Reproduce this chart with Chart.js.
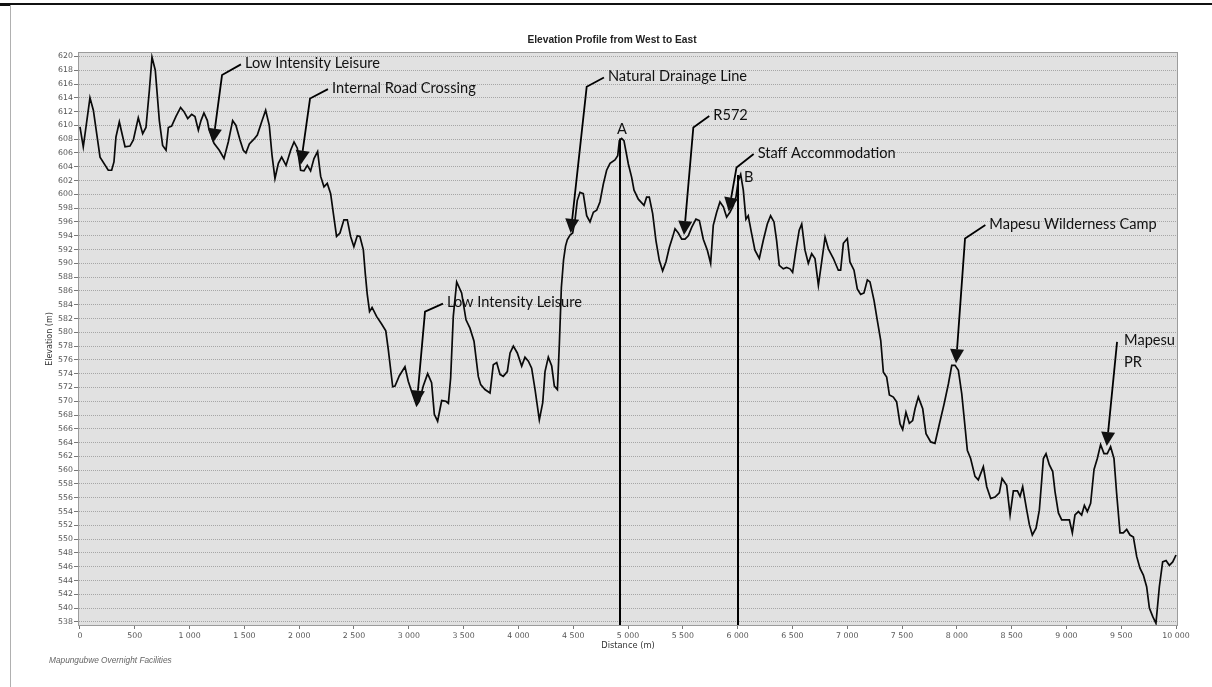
<!DOCTYPE html>
<html>
<head>
<meta charset="utf-8">
<title>Elevation Profile from West to East</title>
<script src="https://cdn.jsdelivr.net/npm/chart.js@4/dist/chart.umd.min.js"></script>
<style>
  html, body { margin: 0; padding: 0; background: #fff; }
  canvas { display: block; }
</style>
</head>
<body>
<canvas id="profile" width="1212" height="687"></canvas>
<script>
// Distance along the transect (m) and ground elevation (m)
const distances = [
  0,30,91,122,183,258,289,310,328,359,
  411,456,487,532,572,602,633,657,687,724,
  754,785,806,836,876,918,949,983,1019,1049,
  1080,1104,1131,1162,1177,1223,1271,1314,1353,1393,
  1423,1460,1490,1514,1545,1587,1618,1657,1694,1727,
  1752,1779,1810,1840,1880,1922,1953,1983,2013,2044,
  2074,2104,2135,2168,2196,2226,2256,2287,2311,2341,
  2372,2408,2439,2469,2499,2530,2554,2585,2603,2621,
  2642,2665,2706,2752,2790,2813,2853,2874,2914,2965,
  2995,3026,3071,3096,3132,3172,3208,3233,3263,3300,
  3339,3361,3382,3406,3437,3482,3522,3558,3595,3634,
  3656,3695,3741,3771,3802,3832,3862,3899,3924,3954,
  3990,4030,4060,4091,4121,4152,4191,4222,4243,4273,
  4304,4328,4356,4374,4392,4412,4430,4446,4471,4495,
  4516,4537,4562,4592,4623,4653,4684,4714,4744,4775,
  4805,4836,4881,4906,4921,4942,4963,5003,5033,5055,
  5094,5146,5170,5194,5225,5255,5286,5316,5346,5377,
  5407,5429,5459,5490,5520,5550,5581,5620,5651,5687,
  5724,5754,5778,5809,5839,5870,5900,5930,5961,5985,
  6006,6028,6052,6076,6097,6128,6158,6198,6234,6271,
  6301,6332,6356,6380,6417,6447,6478,6502,6532,6562,
  6585,6615,6645,6676,6706,6737,6767,6798,6828,6874,
  6919,6940,6965,7001,7025,7062,7092,7123,7153,7184,
  7208,7245,7275,7306,7330,7360,7385,7421,7451,7482,
  7506,7536,7567,7597,7619,7649,7689,7719,7762,7801,
  7841,7884,7923,7954,7984,8014,8045,8075,8096,8126,
  8166,8196,8242,8273,8309,8349,8388,8413,8455,8486,
  8516,8553,8577,8601,8638,8662,8689,8723,8753,8775,
  8790,8814,8844,8875,8896,8927,8957,8997,9027,9054,
  9078,9109,9139,9164,9191,9221,9252,9282,9312,9343,
  9373,9403,9434,9458,9489,9519,9550,9580,9611,9641,
  9671,9702,9732,9757,9787,9817,9848,9878,9909,9939,
  9970,10000
];
const elevations = [
  609.8,606.9,614.0,612.2,605.4,603.5,603.5,604.7,608.3,610.5,
  606.9,607.0,607.9,611.1,608.8,609.7,615.1,619.9,618.0,610.7,
  607.1,606.4,609.7,609.9,611.3,612.6,612.0,611.0,611.6,611.3,
  609.3,610.7,611.8,610.7,609.4,607.4,606.4,605.2,607.6,610.7,
  610.0,607.9,606.4,606.0,607.3,608.0,608.6,610.5,612.2,610.0,
  605.7,602.3,604.5,605.4,604.2,606.4,607.6,606.7,603.5,603.4,
  604.2,603.4,605.2,606.2,602.6,601.1,601.6,600.1,597.3,593.9,
  594.4,596.3,596.3,593.9,592.4,594.0,593.9,592.0,588.5,585.5,
  583.0,583.6,582.3,581.2,580.2,577.5,572.1,572.2,573.7,575.0,
  572.9,571.4,569.4,570.0,572.2,574.0,572.7,568.1,567.1,570.1,
  570.0,569.7,573.4,582.3,587.3,585.7,581.8,580.6,578.7,573.6,
  572.4,571.7,571.2,575.3,575.6,573.9,573.6,574.3,577.0,578.0,
  577.0,575.1,576.4,575.8,574.8,571.7,567.3,569.8,574.3,576.4,
  575.1,572.2,571.7,578.4,586.5,590.5,592.5,593.4,594.1,594.4,
  596.2,599.1,600.3,600.1,596.9,596.0,597.4,597.7,598.9,601.5,
  603.5,604.5,605.0,605.6,607.8,608.1,607.8,604.4,602.5,600.6,
  599.3,598.4,599.6,599.6,597.2,593.3,590.4,588.9,590.2,592.3,
  593.8,595.0,594.4,593.5,593.5,594.0,595.2,596.4,596.2,593.5,
  591.9,590.0,595.5,597.4,598.9,598.2,596.7,597.4,598.4,599.6,
  602.0,602.9,600.6,596.4,596.9,594.3,591.9,590.7,593.3,595.7,
  596.9,596.0,593.3,589.7,589.2,589.4,589.2,588.7,591.9,594.8,
  595.7,591.9,590.0,591.4,590.7,586.8,590.2,593.8,592.1,590.7,
  589.0,589.0,592.9,593.6,590.2,589.0,586.3,585.5,585.7,587.6,
  587.3,584.6,581.7,578.8,574.2,573.5,570.9,570.6,569.9,566.7,
  565.9,568.4,566.8,567.2,568.9,570.6,568.9,565.3,564.1,563.9,
  566.7,569.6,572.5,575.2,575.2,574.5,571.1,566.3,562.9,561.7,
  559.1,558.6,560.5,557.6,555.9,556.1,556.7,558.8,557.8,553.5,
  557.0,557.0,556.2,557.6,554.2,552.1,550.6,551.6,554.2,558.6,
  561.7,562.4,560.8,559.8,556.9,553.8,552.8,552.8,552.8,550.9,
  553.5,554.0,553.5,554.9,554.0,555.2,560.1,561.7,563.7,562.4,
  562.4,563.4,561.7,556.7,550.9,550.9,551.4,550.6,550.3,547.5,
  545.8,544.8,543.1,540.0,538.8,537.8,543.1,546.7,546.9,546.2,
  546.7,547.7
];

// Axis tick values
const distanceTicks = [0,500,1000,1500,2000,2500,3000,3500,4000,4500,5000,
  5500,6000,6500,7000,7500,8000,8500,9000,9500,10000];
const elevationTicks = [538,540,542,544,546,548,550,552,554,556,558,560,562,564,
  566,568,570,572,574,576,578,580,582,584,586,588,590,592,594,596,598,600,
  602,604,606,608,610,612,614,616,618,620];

// Section markers
const markerNames = ['A', 'B'];
const markerDistances = [4927, 6004];
const markerElevations = [608.1, 602.8];

// Callouts: label text, label anchor, leader bend and arrow tip (distance m, elevation m)
const calloutLabels = [
  ['Low Intensity Leisure'], ['Internal Road Crossing'], ['Low Intensity Leisure'],
  ['Natural Drainage Line'], ['R572'], ['Staff Accommodation'],
  ['Mapesu Wilderness Camp'], ['Mapesu', 'PR']
];
const calloutLabelDist = [1505, 2299, 3348, 4817, 5778, 6183, 8297, 9526];
const calloutLabelElev = [619.0, 615.4, 584.3, 617.1, 611.5, 606.0, 595.7, 578.9];
const calloutBendDist  = [1296, 2099, 3148, 4623, 5596, 5990, 8075, null];
const calloutBendElev  = [617.3, 613.9, 583.0, 615.6, 609.7, 603.9, 593.6, null];
const calloutTipDist   = [1214, 2014, 3072, 4477, 5511, 5919, 7993, 9368];
const calloutTipElev   = [607.5, 604.3, 569.5, 594.4, 594.1, 597.5, 575.5, 563.5];

const points = distances.map((d, i) => ({ x: d, y: elevations[i] }));

const fmtThousands = v => String(v).replace(/\B(?=(\d{3})+(?!\d))/g, ' ');

const calloutFont = '14.6px Lato';
const tickFont = { family: 'DejaVu Sans', size: 7.8 };

const profileDecor = {
  id: 'profileDecor',
  beforeDraw(chart) {
    const { ctx, chartArea: a } = chart;
    ctx.save();
    ctx.fillStyle = '#ffffff';
    ctx.fillRect(0, 0, chart.width, chart.height);
    // page rules
    ctx.fillStyle = '#111111';
    ctx.fillRect(0, 3, chart.width, 2);
    ctx.fillRect(0, 3, 10, 3);
    ctx.fillStyle = '#b0b0b0';
    ctx.fillRect(10, 5, 1, chart.height - 5);
    // plot background
    ctx.fillStyle = '#e1e1e1';
    ctx.fillRect(a.left, a.top, a.right - a.left, a.bottom - a.top);
    ctx.restore();
  },
  afterDatasetsDraw(chart) {
    const { ctx, chartArea: a, scales: { x, y } } = chart;
    ctx.save();
    // section markers
    ctx.strokeStyle = '#000';
    ctx.fillStyle = '#111';
    ctx.lineWidth = 2;
    ctx.font = calloutFont;
    markerNames.forEach((name, i) => {
      const px = Math.round(x.getPixelForValue(markerDistances[i]));
      const py = y.getPixelForValue(markerElevations[i]);
      ctx.beginPath();
      ctx.moveTo(px, py);
      ctx.lineTo(px, a.bottom);
      ctx.stroke();
      ctx.textBaseline = 'middle';
      if (i === 0) {
        ctx.textAlign = 'center';
        ctx.fillText(name, px + 2, py - 9);
      } else {
        ctx.textAlign = 'left';
        ctx.fillText(name, px + 6, py + 2);
      }
    });

    // callouts
    ctx.lineWidth = 1.8;
    ctx.lineJoin = 'miter';
    calloutLabels.forEach((lines, i) => {
      const lx = x.getPixelForValue(calloutLabelDist[i]);
      const ly = y.getPixelForValue(calloutLabelElev[i]);
      const tx = x.getPixelForValue(calloutTipDist[i]);
      const ty = y.getPixelForValue(calloutTipElev[i]);
      let sx, sy, bx, by;
      if (calloutBendDist[i] === null) {
        sx = lx - 7; sy = ly + 2;
        bx = sx; by = sy;
      } else {
        sx = lx - 4; sy = ly + 1;
        bx = x.getPixelForValue(calloutBendDist[i]);
        by = y.getPixelForValue(calloutBendElev[i]);
      }
      const dx = tx - bx, dy = ty - by;
      const len = Math.hypot(dx, dy);
      const ux = dx / len, uy = dy / len;
      const headLen = 14, headHalf = 7;
      const cx = tx - ux * headLen, cy = ty - uy * headLen;
      ctx.beginPath();
      ctx.moveTo(sx, sy);
      if (bx !== sx || by !== sy) ctx.lineTo(bx, by);
      ctx.lineTo(cx, cy);
      ctx.stroke();
      ctx.beginPath();
      ctx.moveTo(tx, ty);
      ctx.lineTo(cx - uy * headHalf, cy + ux * headHalf);
      ctx.lineTo(cx + uy * headHalf, cy - ux * headHalf);
      ctx.closePath();
      ctx.fill();
      ctx.textAlign = 'left';
      ctx.textBaseline = 'middle';
      lines.forEach((t, k) => ctx.fillText(t, lx, ly + k * 22));
    });
    ctx.restore();
  },
  afterDraw(chart) {
    const { ctx, chartArea: a } = chart;
    ctx.save();
    ctx.strokeStyle = '#9c9c9c';
    ctx.lineWidth = 1;
    ctx.strokeRect(a.left - 0.5, a.top - 0.5, a.right - a.left + 1, a.bottom - a.top + 1);
    ctx.fillStyle = '#222';
    ctx.font = 'bold 10.2px "Liberation Sans"';
    ctx.textAlign = 'center';
    ctx.textBaseline = 'middle';
    ctx.fillText('Elevation Profile from West to East', 612, 40);
    ctx.fillStyle = '#666';
    ctx.font = 'italic 8.3px "Liberation Sans"';
    ctx.textAlign = 'left';
    ctx.fillText('Mapungubwe Overnight Facilities', 49, 661);
    ctx.restore();
  }
};

new Chart(document.getElementById('profile'), {
  type: 'line',
  data: {
    datasets: [{
      label: 'Elevation',
      data: points,
      borderColor: '#0a0a0a',
      borderWidth: 1.7,
      pointRadius: 0,
      tension: 0,
      fill: false
    }]
  },
  options: {
    responsive: false,
    animation: false,
    events: [],
    layout: { padding: { top: 53, right: 35, left: 0, bottom: 0 } },
    plugins: {
      legend: { display: false },
      tooltip: { enabled: false },
      title: { display: false }
    },
    scales: {
      x: {
        type: 'linear',
        min: -9,
        max: 10009,
        afterBuildTicks: s => { s.ticks = distanceTicks.map(v => ({ value: v })); },
        afterFit: s => { s.height = 62; },
        ticks: {
          autoSkip: false, maxRotation: 0, padding: 2,
          color: '#555', font: tickFont,
          callback: v => fmtThousands(v)
        },
        grid: { drawOnChartArea: false, drawTicks: true, tickLength: 4, tickColor: '#777', tickWidth: 1 },
        border: { display: false },
        title: {
          display: true, text: 'Distance (m)', color: '#333',
          font: { family: 'DejaVu Sans', size: 8.3 },
          padding: { top: 0, bottom: 36 }
        }
      },
      y: {
        type: 'linear',
        min: 537.55,
        max: 620.5,
        afterBuildTicks: s => { s.ticks = elevationTicks.map(v => ({ value: v })); },
        afterFit: s => { s.width = 79; },
        ticks: {
          autoSkip: false, padding: 1,
          color: '#555', font: tickFont
        },
        grid: { color: '#a6a6a6', lineWidth: 1, tickLength: 5, tickColor: '#777', tickWidth: 1 },
        border: { display: false, dash: [1, 1] },
        title: {
          display: true, text: 'Elevation (m)', color: '#333',
          font: { family: 'DejaVu Sans', size: 8 },
          padding: { top: 45, bottom: 0 }
        }
      }
    }
  },
  plugins: [profileDecor]
});
</script>
</body>
</html>
